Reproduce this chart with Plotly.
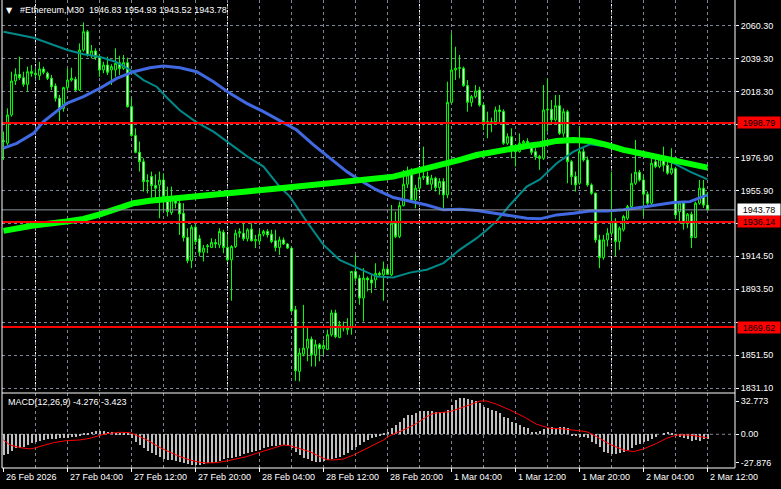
import plotly.graph_objects as go

# ---------------- data ----------------
bars = list(range(177))  # M30 bars, 26 Feb 20:00 .. 2 Mar 12:00

open_ = [1987.0, 1986.0, 2003.8, 2025.3, 2029.5, 2027.4, 2023.2, 2031.2, 2030.2, 2028.7,
         2032.9, 2030.2, 2027.0, 2022.2, 2014.4, 2008.0, 2021.1, 2025.9, 2026.4, 2019.6,
         2044.9, 2056.5, 2041.3, 2044.3, 2040.7, 2032.3, 2035.4, 2032.3, 2032.3, 2036.9,
         2033.3, 2036.9, 2009.1, 1990.8, 1980.2, 1974.3, 1961.7, 1964.9, 1959.2, 1959.6,
         1962.7, 1952.2, 1942.1, 1949.5, 1948.0,
         1941.6, 1926.3, 1911.7, 1932.8, 1925.5, 1917.0, 1920.5, 1920.0, 1923.1, 1921.6,
         1929.7, 1920.0, 1912.2, 1920.6, 1929.0, 1929.0, 1925.5, 1931.6, 1924.2, 1924.0,
         1928.4, 1930.1, 1928.4, 1924.2, 1920.0, 1924.8, 1922.2, 1919.6, 1880.6, 1841.6,
         1852.5, 1856.3, 1862.0, 1852.1, 1858.5, 1856.0, 1855.5, 1864.8, 1878.5, 1863.1,
         1869.0, 1867.9, 1869.0, 1904.8, 1900.6,
         1888.0, 1900.6, 1899.5, 1899.5, 1903.7, 1902.7, 1906.3, 1902.7, 1935.3, 1926.9,
         1946.5, 1960.0, 1965.9, 1950.1, 1957.5, 1964.2, 1965.0, 1960.0, 1963.8, 1957.9,
         1961.7, 1953.3, 2011.8, 2032.3, 2033.3, 2033.3, 2022.4, 2011.8, 2015.4, 2019.6,
         2010.1, 1999.6, 1998.5, 1999.6, 2007.0, 2006.0, 1985.9, 1990.1, 1983.8, 1980.6,
         1985.9, 1987.0, 1983.8, 1980.6, 1977.5,
         1976.4, 2007.0, 2007.4, 2000.7, 2009.7, 1992.2, 2005.9, 1974.3, 1964.9, 1960.6,
         1980.6, 1975.4, 1959.6, 1954.3, 1924.8, 1913.6, 1924.8, 1929.0, 1936.4, 1923.8,
         1931.2, 1938.5, 1945.9, 1960.6, 1967.6, 1962.7, 1953.7, 1948.0, 1974.3, 1971.2,
         1976.0, 1972.0, 1967.0, 1970.0, 1942.7, 1948.0, 1935.3, 1941.0, 1926.3, 1948.0,
         1957.5, 1946.83]

high_ = [1993.3, 2008.0, 2031.2, 2033.3, 2040.7, 2031.2, 2034.4, 2035.4, 2033.3, 2037.5,
         2034.4, 2031.2, 2029.1, 2023.8, 2016.5, 2021.7, 2033.3, 2033.7, 2028.0, 2049.1,
         2062.4, 2057.6, 2048.1, 2046.0, 2042.2, 2037.5, 2040.7, 2035.9, 2046.0, 2041.3,
         2041.8, 2040.1, 2014.4, 1995.4, 1987.0, 1976.4, 1966.3, 1968.0, 1966.3, 1968.0,
         1966.9, 1958.5, 1958.5, 1952.2, 1951.2,
         1948.0, 1932.2, 1934.3, 1934.7, 1928.0, 1921.6, 1922.2, 1925.9, 1925.4, 1932.2,
         1931.2, 1928.0, 1921.5, 1931.2, 1932.2, 1936.4, 1932.2, 1935.3, 1928.0, 1931.2,
         1931.2, 1931.6, 1931.2, 1931.2, 1926.9, 1926.3, 1922.7, 1920.0, 1883.0, 1856.3,
         1883.7, 1869.0, 1863.7, 1861.6, 1859.5, 1861.6, 1868.0, 1880.6, 1880.6, 1873.6,
         1873.2, 1875.3, 1905.2, 1915.3, 1902.7,
         1906.9, 1901.6, 1902.7, 1910.0, 1904.8, 1911.1, 1907.9, 1946.9, 1942.7, 1949.0,
         1969.0, 1971.2, 1970.1, 1959.6, 1970.1, 1983.8, 1968.0, 1966.0, 1964.8, 1963.8,
         1963.8, 2024.9, 2055.5, 2047.0, 2041.8, 2034.4, 2025.9, 2016.5, 2022.8, 2021.7,
         2011.2, 2005.9, 2002.1, 2009.1, 2010.1, 2007.4, 1992.2, 1995.4, 1985.3, 1992.2,
         1988.0, 1989.1, 1985.9, 1982.8, 1978.6,
         2022.8, 2027.0, 2013.3, 2016.5, 2016.5, 2008.0, 2007.0, 1975.4, 1968.0, 1996.4,
         1982.8, 1977.5, 1960.6, 1954.7, 1928.0, 1928.0, 1932.2, 1968.0, 1938.5, 1933.3,
         1940.6, 1947.0, 1966.9, 1988.0, 1969.1, 1965.9, 1955.4, 1978.5, 1977.5, 1978.5,
         1983.8, 1975.4, 1982.8, 1971.0, 1949.0, 1949.0, 1941.8, 1942.7, 1949.0, 1962.7,
         1962.7, 1954.93]

low_ = [1975.4, 1984.9, 2002.8, 2022.8, 2025.9, 2021.7, 2018.6, 2028.0, 2027.5, 2025.9,
        2029.5, 2025.9, 2019.6, 2012.3, 2000.0, 2005.9, 2019.6, 2024.9, 2019.0, 2019.0,
        2043.9, 2040.7, 2039.6, 2038.6, 2028.0, 2030.2, 2029.1, 2022.8, 2028.0, 2029.1,
        2032.3, 2008.5, 1990.1, 1979.6, 1968.0, 1955.4, 1954.3, 1951.6, 1950.9, 1938.5,
        1942.7, 1939.6, 1940.6, 1944.8, 1928.0,
        1923.8, 1910.0, 1906.9, 1921.6, 1914.3, 1911.1, 1916.4, 1919.6, 1919.6, 1919.6,
        1916.4, 1911.1, 1886.3, 1919.6, 1926.3, 1924.2, 1923.8, 1923.8, 1919.6, 1921.6,
        1927.0, 1926.3, 1922.7, 1917.5, 1915.3, 1921.6, 1919.1, 1879.1, 1835.7, 1835.3,
        1851.1, 1848.0, 1844.7, 1844.7, 1848.0, 1852.1, 1855.0, 1863.7, 1862.6, 1862.6,
        1866.9, 1864.8, 1864.8, 1898.5, 1883.7,
        1873.2, 1892.2, 1891.1, 1894.3, 1901.6, 1886.3, 1902.7, 1902.0, 1925.9, 1925.9,
        1945.9, 1957.5, 1949.1, 1944.8, 1956.4, 1962.7, 1959.6, 1956.4, 1955.4, 1953.3,
        1944.8, 1951.2, 2011.2, 2025.9, 2027.0, 2021.7, 2005.9, 2009.1, 2014.4, 2009.1,
        1994.3, 1989.1, 1992.9, 1997.5, 1999.0, 1984.9, 1984.9, 1976.4, 1971.2, 1980.0,
        1983.0, 1982.8, 1978.6, 1975.4, 1969.1,
        1975.4, 1993.3, 1997.5, 1999.6, 1991.2, 1990.0, 1960.6, 1959.6, 1955.4, 1959.6,
        1974.3, 1958.5, 1953.3, 1923.0, 1906.9, 1912.2, 1920.6, 1928.0, 1914.3, 1918.5,
        1930.1, 1937.4, 1944.8, 1959.6, 1961.7, 1939.6, 1946.9, 1946.0, 1970.1, 1970.1,
        1968.0, 1966.0, 1966.0, 1938.1, 1935.3, 1931.2, 1932.2, 1919.6, 1925.9, 1947.0,
        1945.0, 1943.52]

close_ = [1987.5, 2003.8, 2025.3, 2029.5, 2027.4, 2023.2, 2031.2, 2030.2, 2029.5, 2032.9,
          2030.8, 2027.0, 2021.7, 2014.4, 2007.6, 2021.1, 2025.9, 2027.0, 2019.6, 2044.9,
          2056.5, 2041.7, 2044.3, 2040.1, 2032.3, 2035.4, 2030.8, 2034.4, 2036.5, 2033.3,
          2036.9, 2009.1, 1990.8, 1980.2, 1974.3, 1961.7, 1962.3, 1959.2, 1957.5, 1962.7,
          1952.2, 1942.7, 1952.2, 1948.0, 1941.2,
          1926.3, 1911.7, 1932.8, 1923.8, 1917.0, 1919.6, 1921.0, 1923.1, 1922.2, 1930.1,
          1920.0, 1912.2, 1920.6, 1929.0, 1930.0, 1925.5, 1931.2, 1924.2, 1925.0, 1928.4,
          1930.1, 1928.0, 1923.8, 1920.0, 1924.8, 1922.2, 1919.6, 1879.9, 1842.0, 1853.2,
          1856.3, 1862.0, 1852.1, 1858.5, 1856.0, 1858.0, 1864.8, 1878.5, 1863.7, 1871.1,
          1870.1, 1869.4, 1904.8, 1900.6, 1888.0,
          1900.6, 1899.5, 1897.5, 1903.7, 1902.7, 1906.3, 1903.0, 1935.3, 1926.9, 1946.5,
          1960.0, 1965.9, 1950.1, 1957.5, 1964.2, 1965.0, 1960.0, 1963.8, 1957.9, 1961.7,
          1953.3, 2011.8, 2032.3, 2033.3, 2033.7, 2022.4, 2011.8, 2015.4, 2019.0, 2010.1,
          1999.6, 1998.5, 1999.6, 2007.0, 2006.0, 1985.9, 1990.1, 1983.8, 1980.6, 1985.9,
          1987.0, 1985.9, 1980.2, 1977.5, 1976.4,
          2007.0, 2007.4, 2000.7, 2009.7, 1992.2, 2005.9, 1974.3, 1964.9, 1959.6, 1980.6,
          1975.4, 1959.6, 1954.3, 1924.8, 1913.6, 1924.8, 1929.0, 1936.4, 1923.8, 1932.2,
          1939.6, 1945.9, 1960.6, 1967.6, 1962.7, 1953.7, 1948.0, 1973.3, 1971.2, 1976.0,
          1972.0, 1967.0, 1970.0, 1940.6, 1948.0, 1935.3, 1941.0, 1926.3, 1948.0, 1957.5,
          1946.83, 1943.78]

# moving averages (sampled along the drawn lines)
teal_x = [0, 7.5, 16, 20, 24, 28, 31.6, 35, 38.3, 41, 44, 48, 52.5, 56.6, 61, 65, 69, 71.6,
          75.8, 80, 84, 89, 93.3, 97.5, 101.6, 105.8, 110, 114, 118.3, 120.8, 123.3, 126.6,
          130.8, 134.1, 138.3, 142.5, 146.6, 150.8, 155, 159, 163.3, 167.5, 171.6, 176]
teal_y = [2056.5, 2052.7, 2044.9, 2042.2, 2040.7, 2037.5, 2032.3, 2025.9, 2021.7, 2014.4,
          2007.0, 1999.6, 1993.3, 1985.9, 1977.5, 1971.2, 1958.5, 1952.2, 1936.4, 1921.6,
          1912.2, 1906.5, 1901.6, 1901.0, 1904.1, 1905.9, 1910.1, 1918.5, 1925.9, 1931.1,
          1936.8, 1946.9, 1958.5, 1963.1, 1973.3, 1980.6, 1985.3, 1983.8, 1981.7, 1979.6,
          1977.5, 1973.3, 1968.0, 1963.1]

blue_x = [0, 3.3, 7.5, 10, 15.8, 20, 24.1, 28.3, 32.5, 36.6, 40, 44.1, 48.3, 52.5, 56.6,
          60.8, 65, 69.1, 73.3, 77.5, 81.6, 85.8, 89, 93.3, 97.5, 101.6, 105.8, 110, 114.1,
          118.3, 122.5, 126.6, 130.8, 134.1, 138.3, 142.5, 146.6, 150.8, 155, 159.1, 163.3,
          167.5, 171.6, 174.1, 176]
blue_y = [1982.8, 1985.9, 1992.2, 1999.6, 2011.2, 2015.4, 2020.7, 2027.0, 2031.2, 2033.7,
          2034.8, 2033.7, 2031.2, 2024.9, 2017.5, 2011.2, 2005.9, 2000.0, 1994.3, 1984.9,
          1976.4, 1968.0, 1962.7, 1956.4, 1951.6, 1949.5, 1946.9, 1943.8, 1944.2, 1943.4,
          1941.7, 1940.0, 1938.5, 1938.1, 1940.6, 1941.7, 1943.1, 1943.1, 1943.8, 1945.3,
          1946.9, 1948.4, 1949.0, 1951.2, 1953.3]

green_x = [0, 7.5, 15.8, 20, 24.1, 28.3, 32.5, 36.6, 44.1, 52.5, 60.8, 69.1, 77.5, 85.8,
           97.5, 105.8, 110, 114.1, 118.3, 122.5, 126.6, 130.8, 134.1, 138.3, 142.5, 146.6,
           150.8, 155, 159.1, 163.3, 167.5, 171.6, 176]
green_y = [1930.5, 1933.9, 1936.4, 1938.1, 1941.0, 1944.8, 1948.0, 1949.5, 1951.2, 1952.6,
           1955.4, 1957.5, 1959.2, 1961.7, 1964.8, 1969.7, 1972.2, 1975.4, 1978.5, 1980.6,
           1982.3, 1984.2, 1985.3, 1987.4, 1988.0, 1987.4, 1984.9, 1981.7, 1979.6, 1977.5,
           1975.4, 1972.6, 1970.5]

# MACD(12,26,9) histogram (main line) and signal line
macd_hist = [-20.4, -19.7, -16.4, -13.8, -13.1, -12.2, -10.5, -8.9, -7.9, -6.6,
             -5.6, -4.9, -4.9, -4.9, -3.9, -3.3, -3.3, -2.6, -2.3, -1.3,
             1.0, 1.6, 2.6, 3.3, 3.3, 3.3, 2.6, 2.0, 1.6, 1.0,
             1.0, 0.7, -3.9, -7.2, -10.5, -13.1, -16.4, -18.7, -20.4, -22.0,
             -24.3, -25.3, -25.3, -25.9, -27.6, -28.6, -29.6, -30.2, -30.2, -30.2,
             -29.6, -28.6, -27.9, -26.9, -25.9, -24.3, -23.6, -23.0, -22.0, -21.0,
             -19.7, -18.7, -17.1, -16.1, -15.4, -13.8, -12.5, -11.5, -11.2, -10.5,
             -10.5, -11.2, -13.1, -17.1, -20.4, -23.0, -24.3, -26.3, -26.9, -26.9,
             -26.3, -25.3, -24.3, -23.0, -22.0, -20.4, -18.7, -15.4, -12.2, -10.5,
             -7.9, -5.6, -3.3, -2.3, -0.7, 0.7, 2.6,
             6.6, 9.2, 11.8, 15.8, 19.0, 19.0, 20.7, 23.0, 23.0, 23.0,
             23.0, 22.3, 21.7, 22.3, 24.0, 28.9, 33.8, 35.5, 35.5, 34.8,
             33.8, 32.8, 30.5, 27.3, 25.6, 24.0, 23.0, 20.7, 17.4, 15.8,
             12.5, 10.8, 9.2, 7.6, 5.9, 2.6, 2.0, 3.3, 5.3, 5.9,
             7.6, 6.6, 7.6, 6.9, 5.9, -0.7, -1.6, -2.3, -2.6, -3.9,
             -7.2, -9.9, -12.2, -17.1, -18.7, -19.7, -19.7, -18.7, -17.1, -15.4,
             -13.8, -10.5, -9.9, -7.9, -6.6, -4.6, -2.3, 0.0, 1.6, 2.6,
             1.6, -0.7, -2.3, -3.3, -4.6, -6.6, -5.9, -6.6, -4.6, -4.276]

signal_x = [0, 1.6, 4.1, 6.6, 7.5, 10, 12.5, 15.8, 19.1, 21.6, 24.1, 25.8, 29.1, 31.6, 34.1,
            36.6, 39.1, 41.6, 44.1, 46.6, 49.1, 50.8, 53.3, 55.8, 58.3, 60.8, 63.3, 65.8,
            68.3, 70, 71.6, 74.1, 76.6, 79.1, 80.8, 82.5, 85, 87.5, 90, 92.5, 95, 96.6, 100,
            103.3, 105.8, 107.5, 110, 111.6, 114.1, 116.6, 119.1, 120.8, 123.3, 126.6, 130,
            133.3, 136.6, 140, 143.3, 145.8, 148.3, 151.6, 155, 157.5, 160, 163.3, 165.8,
            168.3, 171.6, 174.1, 176]
signal_y = [-5.6, -10.5, -13.1, -14.4, -13.8, -11.2, -8.2, -6.2, -5.6, -3.9, -1.3, 0.7, 2.0,
            1.6, -2.3, -7.2, -13.1, -17.7, -22.0, -25.3, -27.6, -28.2, -27.9, -26.3, -24.3,
            -22.0, -18.7, -15.4, -12.2, -10.5, -11.2, -14.4, -17.1, -22.0, -25.0, -25.3,
            -24.3, -20.4, -15.4, -10.5, -5.6, -1.3, 4.3, 10.8, 17.4, 20.7, 21.7, 22.3, 25.6,
            29.6, 32.8, 32.8, 29.6, 24.0, 17.4, 9.9, 5.9, 5.3, 3.6, 2.6, -2.3, -9.9, -15.4,
            -17.1, -14.4, -8.9, -3.9, -0.7, -0.7, -2.3, -3.423]

# horizontal levels
red_levels = [1998.79, 1936.14, 1869.62]
bid_price = 1943.78

# axis ticks (levels hidden behind the level labels are left blank)
price_ticks = [2060.30, 2039.46, 2018.63, 1997.79, 1976.96, 1956.12, 1935.28, 1914.45,
               1893.61, 1872.78, 1851.94, 1831.10]
price_labels = ["2060.30", "2039.30", "2018.30", "", "1976.90", "1955.90", "",
                "1914.50", "1893.50", "", "1851.50", "1831.10"]
macd_ticks = [32.773, 0.0, -27.876]
macd_labels = ["32.773", "0.00", "-27.876"]
date_bars = [0, 16, 32, 48, 64, 80, 96, 112, 128, 144, 160, 176]
date_labels = ["26 Feb 2026", "27 Feb 04:00", "27 Feb 12:00", "27 Feb 20:00", "28 Feb 04:00",
               "28 Feb 12:00", "28 Feb 20:00", "1 Mar 04:00", "1 Mar 12:00", "1 Mar 20:00",
               "2 Mar 04:00", "2 Mar 12:00"]
grid_bars = list(range(8, 177, 8))
day_bars = [8, 56, 104, 152]

title_text = "#Ethereum,M30  1946.83 1954.93 1943.52 1943.78"
macd_text = "MACD(12,26,9) -4.276 -3.423"

# ---------------- styling ----------------
FONT = "Liberation Sans, Arial, sans-serif"
GRID = "#7d8694"
W, H = 781, 489
ML, MR, MT, MB = 2, 46, 0, 21
PW, PH = W - ML - MR, H - MT - MB
MAIN_BOTTOM_PX, MACD_TOP_PX = 391, 393
main_dom = [(PH - MAIN_BOTTOM_PX) / PH, 1.0]
macd_dom = [0.0, (PH - MACD_TOP_PX) / PH]
XR = [-0.375, 182.875]


def px_x(p):
    return (p - ML) / PW


def px_y(p):
    return 1 - (p - MT) / PH


fig = go.Figure()

fig.add_trace(go.Candlestick(
    x=bars, open=open_, high=high_, low=low_, close=close_,
    xaxis="x", yaxis="y", whiskerwidth=0, hoverinfo="skip",
    increasing=dict(line=dict(color="#00ff00", width=1), fillcolor="#000000"),
    decreasing=dict(line=dict(color="#00ff00", width=1), fillcolor="#ffffff"),
    showlegend=False))

fig.add_trace(go.Scatter(x=teal_x, y=teal_y, mode="lines", xaxis="x", yaxis="y",
                         line=dict(color="#008a8a", width=2), hoverinfo="skip"))
fig.add_trace(go.Scatter(x=blue_x, y=blue_y, mode="lines", xaxis="x", yaxis="y",
                         line=dict(color="#4169e1", width=3), hoverinfo="skip"))
fig.add_trace(go.Scatter(x=green_x, y=green_y, mode="lines", xaxis="x", yaxis="y",
                         line=dict(color="#00ff00", width=6), hoverinfo="skip"))

fig.add_trace(go.Bar(x=bars, y=macd_hist, xaxis="x2", yaxis="y2", width=0.5,
                     marker=dict(color="#c0c0c0", line=dict(width=0)), hoverinfo="skip"))
fig.add_trace(go.Scatter(x=signal_x, y=signal_y, mode="lines", xaxis="x2", yaxis="y2",
                         line=dict(color="#ff0000", width=1), hoverinfo="skip"))

xcommon = dict(range=XR, tickvals=grid_bars, showticklabels=False, ticks="",
               showgrid=True, gridcolor=GRID, griddash="3px,3px", gridwidth=1,
               zeroline=False, showline=False, fixedrange=True)
tickfont = dict(family=FONT, size=9, color="#ffffff")

shapes = []
# day separators
for b in day_bars:
    for dom in (main_dom, macd_dom):
        shapes.append(dict(type="line", xref="x", yref="paper", x0=b, x1=b,
                           y0=dom[0], y1=dom[1], layer="below",
                           line=dict(color="#ffffff", width=1, dash="3px,3px")))
# MACD zero line
shapes.append(dict(type="line", xref="paper", yref="y2", x0=0, x1=1, y0=0, y1=0,
                   layer="below", line=dict(color=GRID, width=1, dash="3px,3px")))
# red levels and bid line
for lv in red_levels:
    shapes.append(dict(type="line", xref="paper", yref="y", x0=0, x1=1, y0=lv, y1=lv,
                       line=dict(color="#ff0000", width=2)))
shapes.append(dict(type="line", xref="paper", yref="y", x0=0, x1=1, y0=bid_price,
                   y1=bid_price, line=dict(color="#8f99a3", width=1)))
# frames
shapes.append(dict(type="line", xref="paper", yref="paper", x0=0, x1=0, y0=0, y1=1,
                   line=dict(color="#ffffff", width=1)))
shapes.append(dict(type="line", xref="paper", yref="paper", x0=1, x1=1, y0=0, y1=1,
                   line=dict(color="#ffffff", width=1)))
shapes.append(dict(type="line", xref="paper", yref="paper", x0=0, x1=1,
                   y0=macd_dom[1], y1=macd_dom[1], line=dict(color="#ffffff", width=1)))
shapes.append(dict(type="line", xref="paper", yref="paper", x0=0, x1=1, y0=0, y1=0,
                   line=dict(color="#ffffff", width=1)))
# date tick marks
for b in date_bars:
    shapes.append(dict(type="line", xref="x2", yref="paper", x0=b, x1=b, y0=0,
                       y1=-4 / PH, line=dict(color="#ffffff", width=1)))

annotations = []
for b, t in zip(date_bars, date_labels):
    annotations.append(dict(x=b, y=-9 / PH, xref="x2", yref="paper", text=t,
                            xanchor="left", yanchor="middle", showarrow=False,
                            font=tickfont))
for lv in red_levels:
    annotations.append(dict(x=1, y=lv, xref="paper", yref="y", text=f"{lv:.2f}",
                            xanchor="left", yanchor="middle", showarrow=False, xshift=2,
                            bgcolor="#ff0000", width=40, height=9, borderpad=1,
                            font=dict(family=FONT, size=9, color="#000000")))
annotations.append(dict(x=1, y=bid_price, xref="paper", yref="y", text=f"{bid_price:.2f}",
                        xanchor="left", yanchor="middle", showarrow=False, xshift=2,
                        bgcolor="#ffffff", width=40, height=9, borderpad=1,
                        font=dict(family=FONT, size=9, color="#000000")))
annotations.append(dict(x=px_x(9), y=px_y(10), xref="paper", yref="paper", text="▼",
                        xanchor="center", yanchor="middle", showarrow=False,
                        font=dict(family="DejaVu Sans", size=8, color="#ffffff")))
annotations.append(dict(x=px_x(18), y=px_y(10), xref="paper", yref="paper", text=title_text,
                        xanchor="left", yanchor="middle", showarrow=False, font=tickfont))
annotations.append(dict(x=px_x(6), y=px_y(402), xref="paper", yref="paper", text=macd_text,
                        xanchor="left", yanchor="middle", showarrow=False, font=tickfont))

fig.update_layout(
    width=W, height=H, margin=dict(l=ML, r=MR, t=MT, b=MB),
    paper_bgcolor="#000000", plot_bgcolor="#000000", showlegend=False,
    font=dict(family=FONT, size=9, color="#ffffff"), bargap=0,
    xaxis=dict(domain=[0, 1], anchor="y", rangeslider=dict(visible=False), **xcommon),
    xaxis2=dict(domain=[0, 1], anchor="y2", **xcommon),
    yaxis=dict(domain=main_dom, anchor="x", side="right", range=[1829.2, 2076.56],
               tickvals=price_ticks, ticktext=price_labels, showgrid=True, gridcolor=GRID,
               griddash="3px,3px", gridwidth=1, zeroline=False, showline=False,
               ticks="outside", ticklen=3, tickcolor="#ffffff", tickfont=tickfont,
               fixedrange=True),
    yaxis2=dict(domain=macd_dom, anchor="x2", side="right", range=[-33.2, 40.7],
                tickvals=macd_ticks, ticktext=macd_labels, showgrid=False, zeroline=False,
                showline=False, ticks="outside", ticklen=3, tickcolor="#ffffff",
                tickfont=tickfont, fixedrange=True),
    shapes=shapes, annotations=annotations,
)

fig.write_html("out.html", config={"displayModeBar": False},
               post_script="document.body.style.margin='0px';"
                           "document.body.style.background='#000';")
